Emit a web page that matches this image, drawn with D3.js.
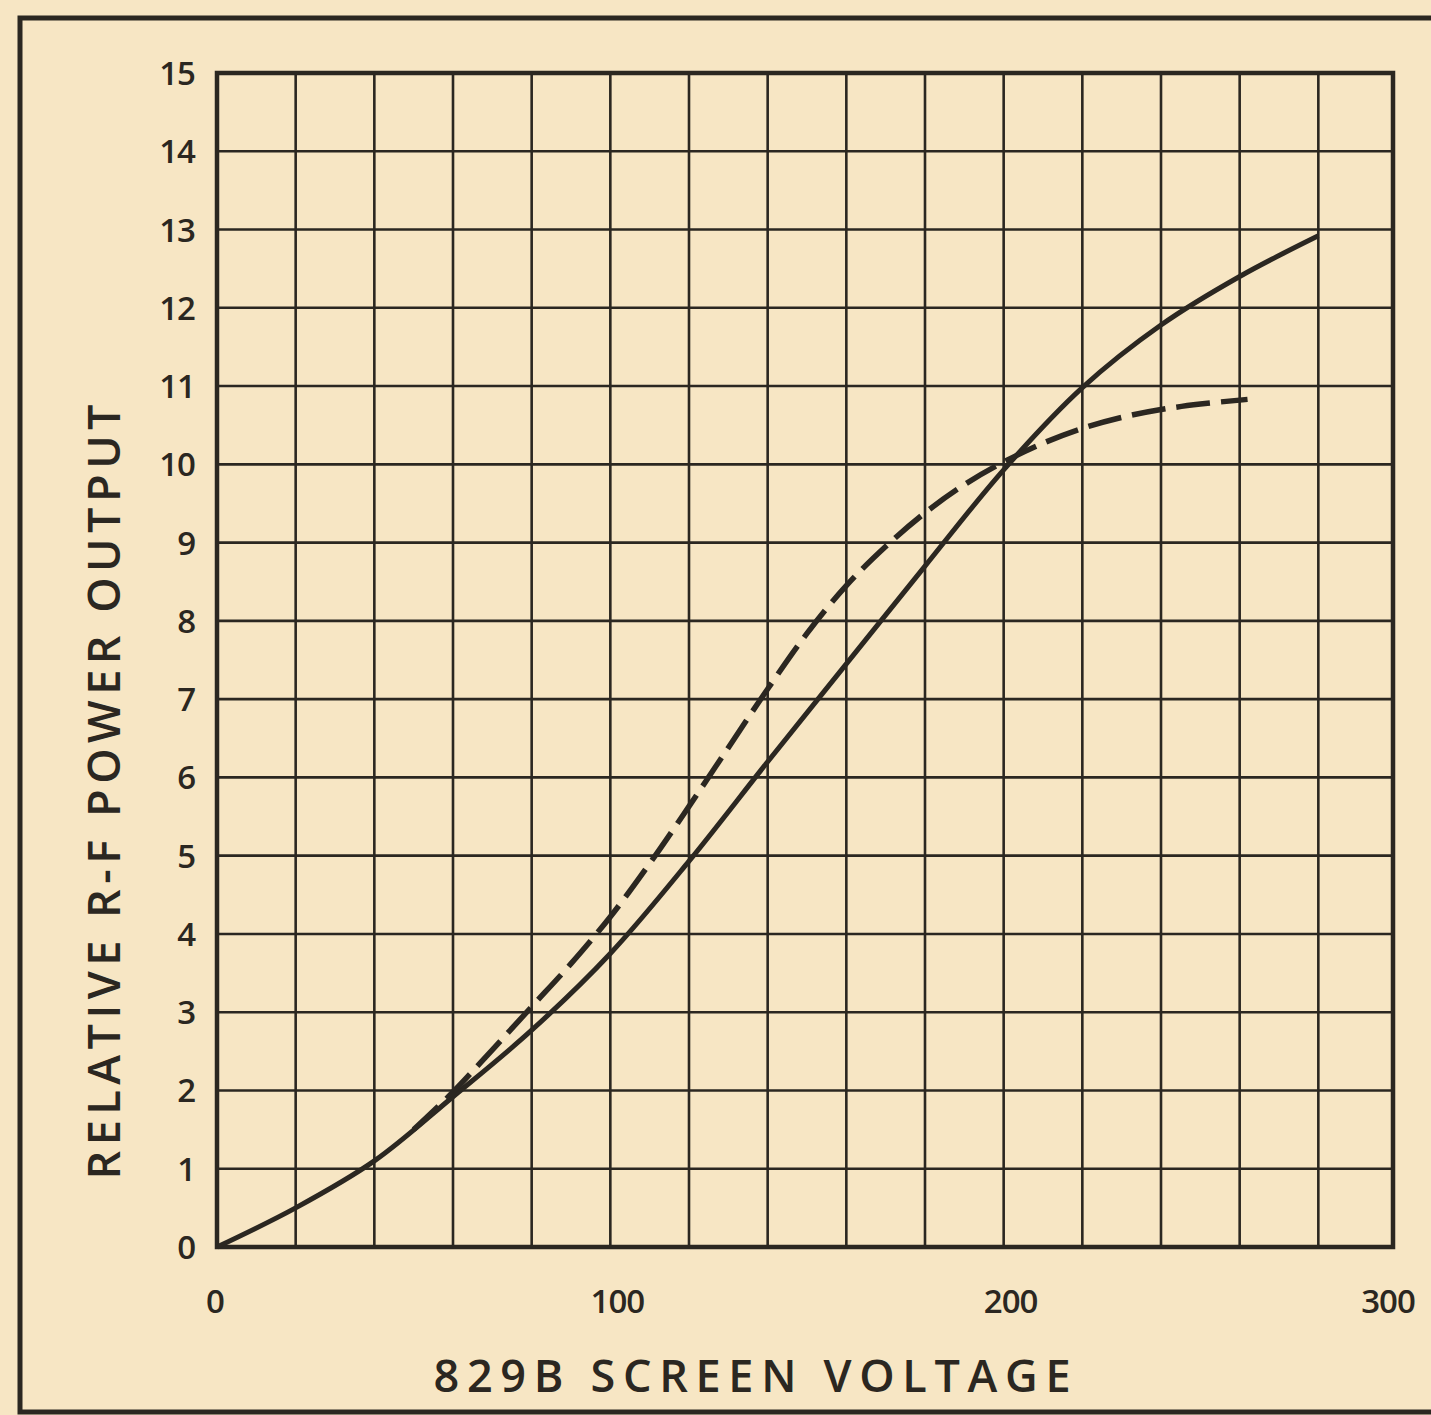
<!DOCTYPE html>
<html lang="en">
<style type="text/css">
    body { margin: 0; background: #f7e6c4; }
    text { font-family: "Open Sans", "DejaVu Sans", sans-serif; font-weight: 600; fill: #2b2721; }
</style>
<head>
    <title>829B Screen Voltage</title>
</head>
<body>
<script src="https://d3js.org/d3.v7.min.js"></script>
<script>

    // x ticks and gridlines
    var xTicks = [0, 100, 200, 300];
    var xGrid = [20, 40, 60, 80, 100, 120, 140, 160, 180, 200, 220, 240, 260, 280];
    var yTicks = [0, 1, 2, 3, 4, 5, 6, 7, 8, 9, 10, 11, 12, 13, 14, 15];

    // solid curve
    var solidV = [0, 20, 40, 60, 80, 100, 120, 140, 160, 180, 200, 220, 240, 260, 280];
    var solidP = [0, 0.5, 1.1, 1.92, 2.77, 3.75, 4.93, 6.2, 7.45, 8.7, 9.93, 10.98, 11.78, 12.4, 12.92];

    // dashed curve
    var dashV = [50, 60, 70, 80, 90, 100, 110, 120, 130, 140, 150, 160, 170, 180, 190, 200, 210, 220, 230, 240, 250, 262];
    var dashP = [1.5, 1.98, 2.52, 3.07, 3.62, 4.22, 4.9, 5.63, 6.38, 7.13, 7.84, 8.45, 8.95, 9.38, 9.74, 10.03, 10.27, 10.46, 10.6, 10.7, 10.77, 10.83];

    var W = 1431, H = 1415;
    var ink = "#2b2721";

	var svg = d3.select("body").append("svg")
				.attr("width", W)
				.attr("height", H);

    svg.append("rect")
        .attr("width", W).attr("height", H)
        .attr("fill", "#f7e6c4");

    // outer frame
    svg.append("rect")
        .attr("x", 20).attr("y", 18)
        .attr("width", 1460).attr("height", 1394)
        .attr("fill", "none")
        .attr("stroke", ink)
        .attr("stroke-width", 5);

	var xScale = d3.scaleLinear()
                .domain([0, 300])
                .range([217, 1397]);

	var yScale = d3.scaleLinear()
                .domain([0, 15])
                .range([1247, 73]);

    var grid = svg.append("g");
    grid.selectAll(".vx")
        .data(xGrid)
        .enter()
        .append("line")
        .attr("x1", function(d){ return xScale(d); })
        .attr("x2", function(d){ return xScale(d); })
        .attr("y1", yScale(15))
        .attr("y2", yScale(0))
        .attr("stroke", ink)
        .attr("stroke-width", 2.6);

    grid.selectAll(".hy")
        .data(yTicks.slice(1, -1))
        .enter()
        .append("line")
        .attr("x1", xScale(0))
        .attr("x2", xScale(300) - 4)
        .attr("y1", function(d){ return yScale(d); })
        .attr("y2", function(d){ return yScale(d); })
        .attr("stroke", ink)
        .attr("stroke-width", 2.6);

    svg.append("rect")
        .attr("x", xScale(0))
        .attr("y", yScale(15))
        .attr("width", xScale(300) - 4 - xScale(0))
        .attr("height", yScale(0) - yScale(15))
        .attr("fill", "none")
        .attr("stroke", ink)
        .attr("stroke-width", 4.5);

    // tick labels
    svg.selectAll(".yl")
        .data(yTicks)
        .enter()
        .append("text")
        .attr("x", 195)
        .attr("y", function(d){ return yScale(d) + 12; })
        .attr("text-anchor", "end")
        .attr("font-size", 33)
        .attr("letter-spacing", -1)
        .text(function(d){ return d; });

    svg.selectAll(".xl")
        .data(xTicks)
        .enter()
        .append("text")
        .attr("x", function(d){ return xScale(d) + (d === 300 ? -9 : (d === 0 ? -2 : 7)); })
        .attr("y", 1313)
        .attr("text-anchor", "middle")
        .attr("font-size", 33)
        .attr("letter-spacing", -1)
        .text(function(d){ return d; });

    // axis titles
    svg.append("text")
        .attr("x", 752)
        .attr("y", 1392)
        .attr("text-anchor", "middle")
        .attr("font-size", 45)
        .attr("textLength", 637)
        .attr("lengthAdjust", "spacing")
        .text("829B  SCREEN  VOLTAGE");

    svg.append("text")
        .attr("transform", "translate(120,792) rotate(-90)")
        .attr("text-anchor", "middle")
        .attr("font-size", 45)
        .attr("textLength", 775)
        .attr("lengthAdjust", "spacing")
        .text("RELATIVE  R-F  POWER  OUTPUT");

    // curves
    var line = d3.line()
        .x(function(d){ return xScale(d[0]); })
        .y(function(d){ return yScale(d[1]); })
        .curve(d3.curveCatmullRom.alpha(0.5));

    svg.append("path")
        .datum(d3.zip(solidV, solidP))
        .attr("d", line)
        .attr("fill", "none")
        .attr("stroke", ink)
        .attr("stroke-width", 5);

    svg.append("path")
        .datum(d3.zip(dashV, dashP))
        .attr("d", line)
        .attr("fill", "none")
        .attr("stroke", ink)
        .attr("stroke-width", 5.5)
        .attr("stroke-dasharray", "34,11");

</script>
</body>
</html>
